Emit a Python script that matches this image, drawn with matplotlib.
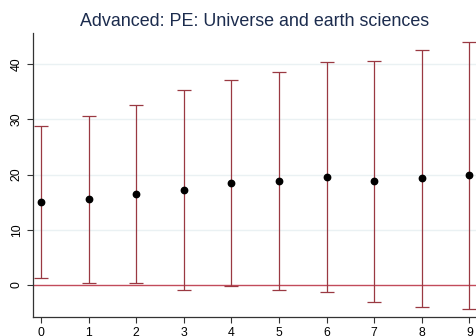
import numpy as np
import matplotlib
matplotlib.use("Agg")
import matplotlib.pyplot as plt

plt.rcParams['font.family'] = ['Liberation Sans', 'DejaVu Sans']

# данные
x = [0, 1, 2, 3, 4, 5, 6, 7, 8, 9]
means = [15.0, 15.5, 16.5, 17.2, 18.5, 18.9, 19.6, 18.8, 19.3, 19.9]
upper = [28.8, 30.6, 32.7, 35.4, 37.1, 38.6, 40.5, 40.6, 42.6, 44.1]
lower = [1.3, 0.3, 0.3, -1.0, -0.2, -0.9, -1.3, -3.1, -4.0, -4.4]

means = np.array(means)
err = [means - np.array(lower), np.array(upper) - means]

fig = plt.figure(figsize=(4.76, 3.36), dpi=100)
ax = fig.add_axes([0.070, 0.057, 0.93, 0.845])

# сетка
for v in [10, 20, 30, 40]:
    ax.axhline(v, color='#eaf1f3', lw=1.0, zorder=0)
ax.axhline(0, color='#c24b5b', lw=1.0, zorder=1)

ax.errorbar(x, means, yerr=err, fmt='none', ecolor='#9a3942',
            elinewidth=0.9, capsize=4.7, capthick=0.9, zorder=2)
ax.plot(x, means, 'o', color='black', markersize=4.6, zorder=3)

ax.set_xlim(-0.16, 9.14)
ax.set_ylim(-5.8, 45.7)
ax.set_xticks(x)
ax.set_yticks([0, 10, 20, 30, 40])
ax.tick_params(axis='both', labelsize=8.8, length=4, width=0.8, color='#333333')
for lab in ax.get_yticklabels():
    lab.set_rotation(90)
    lab.set_va('center')

for s in ['top', 'right']:
    ax.spines[s].set_visible(False)
for s in ['left', 'bottom']:
    ax.spines[s].set_color('#333333')
    ax.spines[s].set_linewidth(0.9)

fig.text(0.535, 0.937, 'Advanced: PE: Universe and earth sciences',
         ha='center', va='center', fontsize=12.9, color='#1c2c4e')

fig.savefig('out.png', dpi=100)
